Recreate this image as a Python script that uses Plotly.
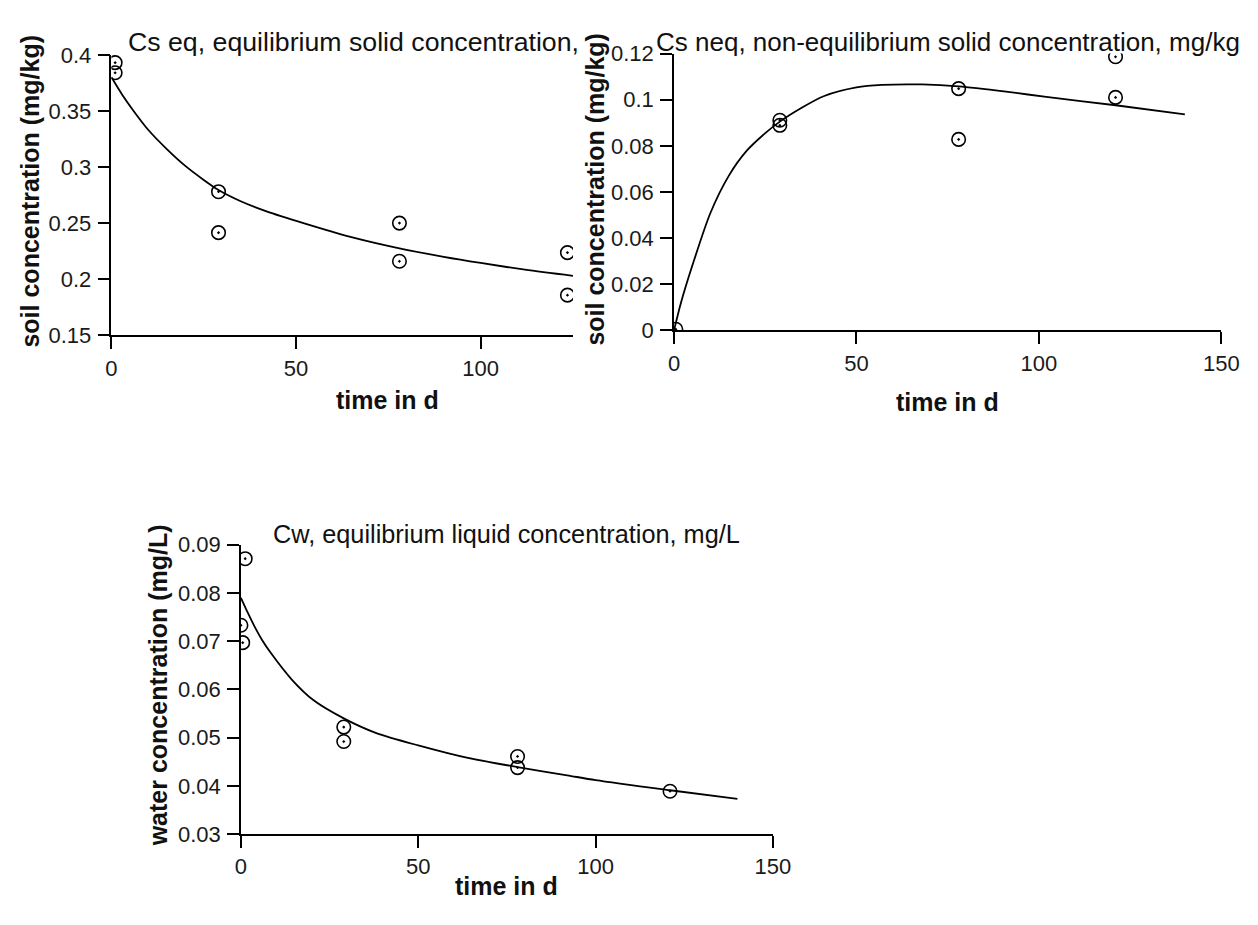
import plotly.graph_objects as go

# ---------------- data ----------------
# Panel 1: Cs eq
p1_obs_t = [1, 1, 29, 29, 78, 78, 123.5, 123.5]
p1_obs_c = [0.393, 0.384, 0.278, 0.2415, 0.250, 0.216, 0.2237, 0.1858]
p1_fit_t = [0, 3, 6, 10, 15, 20, 25, 29, 35, 42, 52, 65, 78, 90, 100, 112, 125]
p1_fit_c = [0.380, 0.364, 0.350, 0.333, 0.316, 0.301, 0.2885, 0.2795, 0.2695,
            0.2605, 0.2500, 0.2375, 0.2275, 0.2200, 0.2145, 0.2085, 0.2030]
p1_yticks = [0.15, 0.2, 0.25, 0.3, 0.35, 0.4]
p1_ytext = ["0.15", "0.2", "0.25", "0.3", "0.35", "0.4"]
p1_xticks = [0, 50, 100]

# Panel 2: Cs neq
p2_obs_t = [0.5, 29, 29, 78, 78, 121, 121]
p2_obs_c = [0.0005, 0.0911, 0.0889, 0.1048, 0.0828, 0.1010, 0.1186]
p2_fit_t = [0, 2, 5, 10, 15, 20, 25, 29, 35, 41, 50, 57, 68, 78, 91, 102, 121, 140]
p2_fit_c = [0.0, 0.0125, 0.028, 0.051, 0.067, 0.078, 0.0855, 0.0905, 0.0965,
            0.1015, 0.1053, 0.1064, 0.1066, 0.1058, 0.1035, 0.1012, 0.0976, 0.0936]
p2_yticks = [0, 0.02, 0.04, 0.06, 0.08, 0.1, 0.12]
p2_ytext = ["0", "0.02", "0.04", "0.06", "0.08", "0.1", "0.12"]
p2_xticks = [0, 50, 100, 150]

# Panel 3: Cw
p3_obs_t = [1.2, 0, 0.5, 29, 29, 78, 78, 121]
p3_obs_c = [0.0871, 0.0733, 0.0697, 0.0522, 0.0492, 0.0461, 0.0438, 0.0389]
p3_fit_t = [0, 2, 4, 6, 8.4, 14.4, 20.4, 29, 38, 50, 64, 78, 92, 100, 121, 140]
p3_fit_c = [0.0790, 0.0758, 0.0728, 0.0702, 0.0676, 0.0620, 0.0578, 0.0540, 0.0510,
            0.0484, 0.0458, 0.0439, 0.0422, 0.0412, 0.0391, 0.0373]
p3_yticks = [0.03, 0.04, 0.05, 0.06, 0.07, 0.08, 0.09]
p3_ytext = ["0.03", "0.04", "0.05", "0.06", "0.07", "0.08", "0.09"]
p3_xticks = [0, 50, 100, 150]

titles = ["Cs eq, equilibrium solid concentration,",
          "Cs neq, non-equilibrium solid concentration, mg/kg",
          "Cw, equilibrium liquid concentration, mg/L"]
xlabel = "time in d"
ylabels = ["soil concentration (mg/kg)", "soil concentration (mg/kg)",
           "water concentration (mg/L)"]

# ---------------- layout helpers ----------------
W, H = 1258, 925
FONT = "Liberation Sans, Arial, sans-serif"


def px(x):
    return x / W


def py(y):
    return 1 - y / H


fig = go.Figure()

panels = [
    dict(obs=(p1_obs_t, p1_obs_c), fit=(p1_fit_t, p1_fit_c), xr=[0, 125], yr=[0.15, 0.4],
         yt=(p1_yticks, p1_ytext), xt=p1_xticks,
         xd=[px(107.5), px(578)], yd=[py(332.3), py(44)]),
    dict(obs=(p2_obs_t, p2_obs_c), fit=(p2_fit_t, p2_fit_c), xr=[0, 150], yr=[0, 0.12],
         yt=(p2_yticks, p2_ytext), xt=p2_xticks,
         xd=[px(681), px(1239)], yd=[py(327.3), py(42.7)]),
    dict(obs=(p3_obs_t, p3_obs_c), fit=(p3_fit_t, p3_fit_c), xr=[0, 150], yr=[0.03, 0.09],
         yt=(p3_yticks, p3_ytext), xt=p3_xticks,
         xd=[px(239.5), px(781.8)], yd=[py(845), py(547.5)]),
]

for i, p in enumerate(panels, start=1):
    xa = "x" if i == 1 else f"x{i}"
    ya = "y" if i == 1 else f"y{i}"
    fig.add_trace(go.Scatter(x=p["fit"][0], y=p["fit"][1], mode="lines",
                             line=dict(color="black", width=1.8, shape="spline", smoothing=0.8),
                             xaxis=xa, yaxis=ya, showlegend=False, hoverinfo="skip"))
    fig.add_trace(go.Scatter(x=p["obs"][0], y=p["obs"][1], mode="markers",
                             marker=dict(symbol="circle-open-dot", size=13.5, color="black",
                                         line=dict(width=1.6, color="black")),
                             xaxis=xa, yaxis=ya, showlegend=False, cliponaxis=True))
    axcommon = dict(showline=True, linecolor="black", linewidth=1.6, showgrid=False,
                    zeroline=False, ticks="outside", ticklen=12, tickwidth=1.6,
                    tickcolor="black", tickfont=dict(family=FONT, size=22, color="#1a1a1a"))
    xkey = "xaxis" if i == 1 else f"xaxis{i}"
    ykey = "yaxis" if i == 1 else f"yaxis{i}"
    fig.update_layout(**{
        xkey: dict(domain=p["xd"], range=p["xr"], anchor=ya, tickmode="array",
                   tickvals=p["xt"], ticktext=[str(v) for v in p["xt"]], **axcommon),
        ykey: dict(domain=p["yd"], range=p["yr"], anchor=xa, tickmode="array",
                   tickvals=p["yt"][0], ticktext=p["yt"][1], ticklabelstandoff=2,
                   **axcommon),
    })

annotations = []
# panel titles
for txt, (cx, cy), fs in zip(titles, [(354, 31), (960.5, 31), (510.5, 536.5)],
                             [26.7, 26, 25.3]):
    annotations.append(dict(text=txt, x=px(cx), y=py(cy), xref="paper", yref="paper",
                            xanchor="center", yanchor="middle", showarrow=False,
                            font=dict(family=FONT, size=fs, color="#111")))
# x titles
for (cx, cy) in [(389, 399), (960, 401), (510, 898)]:
    annotations.append(dict(text=f"<b>{xlabel}</b>", x=px(cx), y=py(cy), xref="paper",
                            yref="paper", xanchor="center", yanchor="middle", showarrow=False,
                            font=dict(family=FONT, size=25, color="#111")))
# y titles
for txt, (cx, cy) in zip(ylabels, [(25, 184), (601, 182), (155, 692)]):
    annotations.append(dict(text=f"<b>{txt}</b>", x=px(cx), y=py(cy), xref="paper",
                            yref="paper", xanchor="center", yanchor="middle", showarrow=False,
                            textangle=-90, font=dict(family=FONT, size=25, color="#111")))

fig.update_layout(width=W, height=H, margin=dict(l=0, r=0, t=0, b=0),
                  paper_bgcolor="white", plot_bgcolor="white",
                  annotations=annotations, showlegend=False)

fig.write_html("out.html")
